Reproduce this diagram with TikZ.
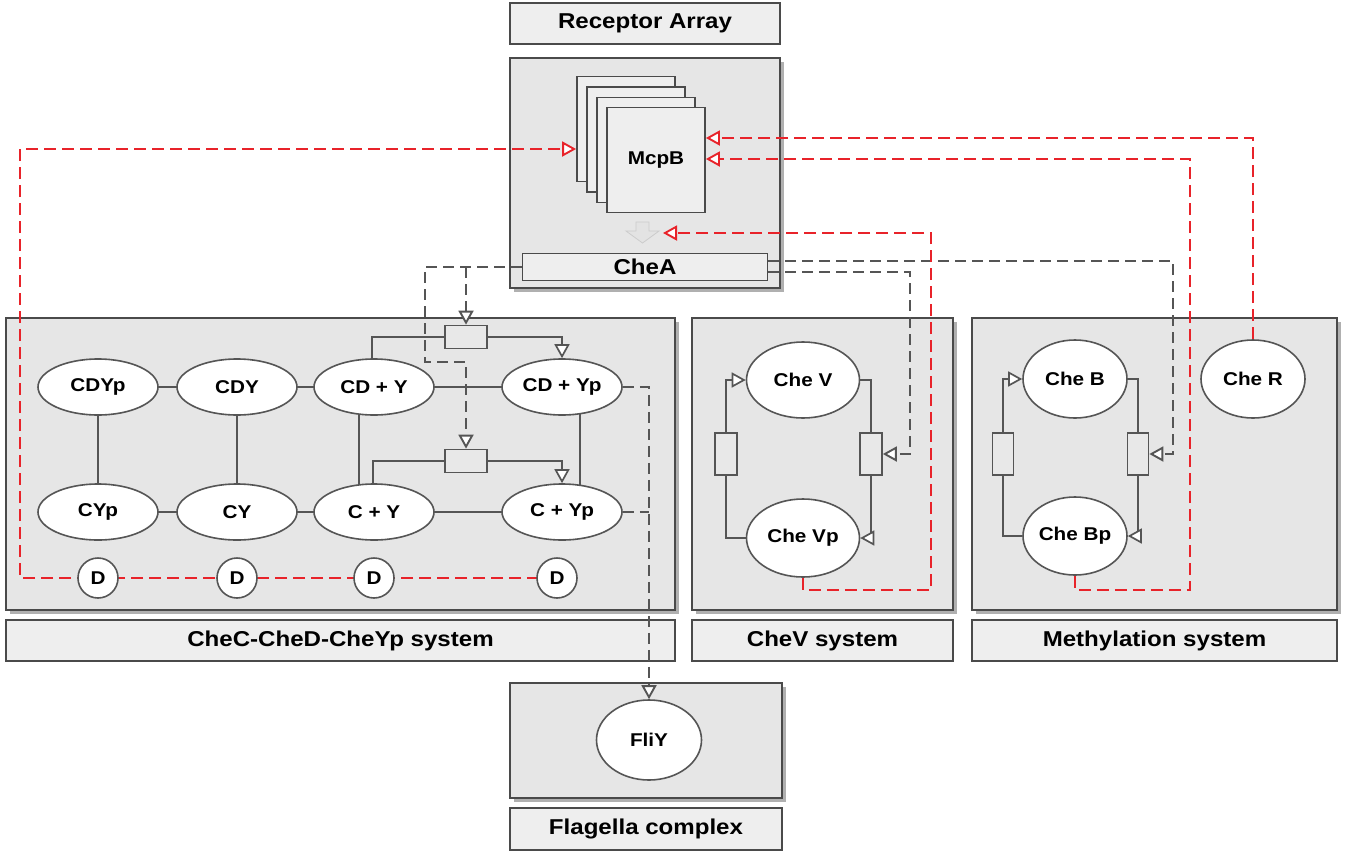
\documentclass[tikz,border=0pt]{standalone}
\usepackage{fontspec}
\setmainfont[FakeStretch=1.12]{Liberation Sans}
\usetikzlibrary{shapes.geometric,arrows.meta,shadows}
\definecolor{boxfill}{HTML}{E6E6E6}
\definecolor{labelfill}{HTML}{EEEEEE}
\definecolor{linecol}{HTML}{555555}
\definecolor{bordercol}{HTML}{4A4A4A}
\definecolor{shadowcol}{HTML}{B0B0B0}
\definecolor{redc}{HTML}{E8232A}
\definecolor{rbfill}{HTML}{E8E8E8}
\newcommand\lblfont{\fontsize{21.5}{25}\selectfont\bfseries}
\newcommand\ellfont{\fontsize{18.5}{22}\selectfont\bfseries}
\pgfdeclarelayer{bg}
\pgfdeclarelayer{conn}
\pgfsetlayers{bg,conn,main}
\begin{document}
\begin{tikzpicture}[x=1pt,y=-1pt,
  sysbox/.style={rectangle, draw=bordercol, line width=2pt, fill=boxfill, inner sep=0pt,
    drop shadow={shadow xshift=4pt, shadow yshift=-4pt, fill=shadowcol, opacity=1}},
  lbl/.style={rectangle, draw=bordercol, line width=1.8pt, fill=labelfill, inner sep=0pt, font=\lblfont},
  mcp/.style={rectangle, draw=bordercol, line width=1.8pt, fill=labelfill, inner sep=0pt,
    minimum width=98pt, minimum height=105pt, font=\ellfont},
  ell/.style={ellipse, draw=linecol, line width=1.6pt, fill=white, inner sep=0pt, font=\ellfont},
  dnode/.style={circle, draw=linecol, line width=1.6pt, fill=white, inner sep=0pt, minimum size=40pt, font=\ellfont},
  rbox/.style={rectangle, draw=linecol, line width=1.7pt, fill=rbfill, inner sep=0pt},
  conn/.style={draw=linecol, line width=1.7pt},
  gdash/.style={draw=linecol, line width=1.9pt, dash pattern=on 11pt off 6pt},
  rdash/.style={draw=redc, line width=1.9pt, dash pattern=on 12pt off 6pt},
  opentip/.style={-{Triangle[length=14pt,width=15pt,fill=white]}}
]
\useasboundingbox (0,0) rectangle (1352,852);

\begin{pgfonlayer}{bg}
\node[sysbox, minimum width=270pt, minimum height=230pt] (rec) at (645,173) {};
\node[lbl, minimum width=270pt, minimum height=41pt] (recL) at (645,23.5) {Receptor Array};
\node[sysbox, minimum width=669pt, minimum height=292pt] (cdsys) at (340.5,464) {};
\node[lbl, minimum width=669pt, minimum height=41pt] (cdL) at (340.5,640.5) {CheC-CheD-CheYp system};
\node[sysbox, minimum width=261pt, minimum height=292pt] (vsys) at (822.5,464) {};
\node[lbl, minimum width=261pt, minimum height=41pt] (vL) at (822.5,640.5) {CheV system};
\node[sysbox, minimum width=365pt, minimum height=292pt] (msys) at (1154.5,464) {};
\node[lbl, minimum width=365pt, minimum height=41pt] (mL) at (1154.5,640.5) {Methylation system};
\node[sysbox, minimum width=272pt, minimum height=115pt] (fsys) at (646,740.5) {};
\node[lbl, minimum width=272pt, minimum height=42pt] (fL) at (646,829) {Flagella complex};
\end{pgfonlayer}

% receptor array content
\node[mcp] (mcp1) at (626,129) {};
\node[mcp] (mcp2) at (636,139.5) {};
\node[mcp] (mcp3) at (646,150) {};
\node[mcp] (mcp4) at (656,160) {McpB};
\filldraw[fill=gray!22, draw=gray!40, line width=0.8pt]
  (636,222) -- (649,222) -- (649,231) -- (659,231) -- (642.5,243) -- (626,231) -- (636,231) -- cycle;
\coordinate (sig) at (663,233);
\node[lbl, minimum width=245pt, minimum height=27pt] (cheA) at (645,267) {CheA};

% CheC-CheD-CheYp system
\node[ell, minimum width=120pt, minimum height=56pt] (cdyp) at (98,387) {CDYp};
\node[ell, minimum width=120pt, minimum height=56pt] (cdy) at (237,387) {CDY};
\node[ell, minimum width=120pt, minimum height=56pt] (cdpy) at (374,387) {CD + Y};
\node[ell, minimum width=120pt, minimum height=56pt] (cdpyp) at (562,387) {CD + Yp};
\node[ell, minimum width=120pt, minimum height=56pt] (cyp) at (98,512) {CYp};
\node[ell, minimum width=120pt, minimum height=56pt] (cy) at (237,512) {CY};
\node[ell, minimum width=120pt, minimum height=56pt] (cpy) at (374,512) {C + Y};
\node[ell, minimum width=120pt, minimum height=56pt] (cpyp) at (562,512) {C + Yp};
\node[rbox, minimum width=42pt, minimum height=23pt] (rb1) at (466,337) {};
\node[rbox, minimum width=42pt, minimum height=23pt] (rb2) at (466,461) {};
\node[dnode] (d1) at (98,578) {D};
\node[dnode] (d2) at (237,578) {D};
\node[dnode] (d3) at (374,578) {D};
\node[dnode] (d4) at (557,578) {D};

% CheV system
\node[ell, minimum width=113pt, minimum height=76pt] (chev) at (803,380) {Che V};
\node[ell, minimum width=113pt, minimum height=78pt] (chevp) at (803,538) {Che Vp};
\node[rbox, minimum width=22pt, minimum height=42pt] (vbL) at (726,454) {};
\node[rbox, minimum width=22pt, minimum height=42pt] (vbR) at (871,454) {};

% Methylation system
\node[ell, minimum width=104pt, minimum height=78pt] (cheb) at (1075,379) {Che B};
\node[ell, minimum width=104pt, minimum height=78pt] (chebp) at (1075,536) {Che Bp};
\node[ell, minimum width=104pt, minimum height=78pt] (cher) at (1253,379) {Che R};
\node[rbox, minimum width=21pt, minimum height=42pt] (mbL) at (1003,454) {};
\node[rbox, minimum width=21pt, minimum height=42pt] (mbR) at (1138,454) {};

% Flagella
\node[ell, minimum width=105pt, minimum height=80pt] (fliy) at (649,740) {FliY};

% helper coordinates
\coordinate (rl) at (20,578);
\coordinate (y149) at (0,149);
\coordinate (y138) at (0,138);
\coordinate (y159) at (0,159);
\coordinate (rB) at (1190,590);
\coordinate (rV) at (931,590);
\coordinate (lc1) at (425,362);
\coordinate (g2) at (1173,261);
\coordinate (g3) at (910,272);

\begin{pgfonlayer}{conn}
% solid reaction lines
\draw[conn] (cdyp.center) -- (cdy.center) -- (cdpy.center) -- (cdpyp.center);
\draw[conn] (cyp.center) -- (cy.center) -- (cpy.center) -- (cpyp.center);
\draw[conn] (cdyp.center) -- (cyp.center);
\draw[conn] (cdy.center) -- (cy.center);
\draw[conn] ([xshift=-15pt]cdpy.center) -- ([xshift=-15pt]cpy.center);
\draw[conn] ([xshift=18pt]cdpyp.center) -- ([xshift=18pt]cpyp.center);
\draw[conn] ([xshift=-2pt]cdpy.center) |- (rb1.west);
\draw[conn,opentip] (rb1.east) -| (cdpyp.north);
\draw[conn] ([xshift=-1pt]cpy.center) |- (rb2.west);
\draw[conn,opentip] (rb2.east) -| (cpyp.north);

\draw[conn] (chevp.west) -| (vbL.south);
\draw[conn,opentip] (vbL.north) |- (chev.west);
\draw[conn] (chev.east) -| (vbR.north);
\draw[conn,opentip] (vbR.south) |- (chevp.east);

\draw[conn] (chebp.west) -| (mbL.south);
\draw[conn,opentip] (mbL.north) |- (cheb.west);
\draw[conn] (cheb.east) -| (mbR.north);
\draw[conn,opentip] (mbR.south) |- (chebp.east);

% grey dashed regulation from CheA
\draw[gdash,opentip] (cheA.west) -| (lc1) -| (rb2.north);
\draw[gdash,opentip] (rb1.north |- cheA.west) -- (rb1.north);
\draw[gdash,opentip] (cheA.east |- g2) -- (g2) |- (mbR.east);
\draw[gdash,opentip] (cheA.east |- g3) -- (g3) |- (vbR.east);
\draw[gdash,opentip] (cdpyp.east) -| (fliy.north);
\draw[gdash] (cpyp.east) -- (cpyp.east -| fliy.north);

% red dashed feedback to receptors
\draw[rdash,opentip] (d4.center) -- (rl) |- (mcp1.west |- y149);
\draw[rdash,opentip] (cher.north) |- (mcp4.east |- y138);
\draw[rdash,opentip] (chebp.south) |- (rB) |- (mcp4.east |- y159);
\draw[rdash,opentip] (chevp.south) |- (rV) |- (sig);
\end{pgfonlayer}
\end{tikzpicture}
\end{document}
